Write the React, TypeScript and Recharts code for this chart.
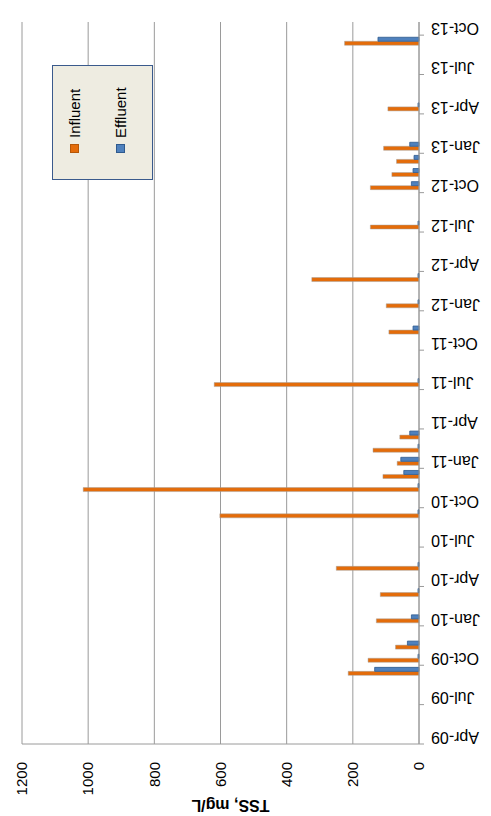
import React from "react";
import { BarChart, Bar, XAxis, YAxis, CartesianGrid, Legend } from "recharts";

// monthly slots of the date axis, Apr-09 .. Oct-13
const months = [
  "Apr-09", "May-09", "Jun-09", "Jul-09", "Aug-09", "Sep-09", "Oct-09", "Nov-09", "Dec-09",
  "Jan-10", "Feb-10", "Mar-10", "Apr-10", "May-10", "Jun-10", "Jul-10", "Aug-10", "Sep-10", "Oct-10", "Nov-10", "Dec-10",
  "Jan-11", "Feb-11", "Mar-11", "Apr-11", "May-11", "Jun-11", "Jul-11", "Aug-11", "Sep-11", "Oct-11", "Nov-11", "Dec-11",
  "Jan-12", "Feb-12", "Mar-12", "Apr-12", "May-12", "Jun-12", "Jul-12", "Aug-12", "Sep-12", "Oct-12", "Nov-12", "Dec-12",
  "Jan-13", "Feb-13", "Mar-13", "Apr-13", "May-13", "Jun-13", "Jul-13", "Aug-13", "Sep-13", "Oct-13",
];

// months with samples
const sampleMonths = [
  "Sep-09", "Oct-09", "Nov-09", "Jan-10", "Mar-10", "May-10", "Sep-10", "Nov-10", "Dec-10", "Jan-11", "Feb-11", "Mar-11",
  "Jul-11", "Nov-11", "Jan-12", "Mar-12", "Jul-12", "Oct-12", "Nov-12", "Dec-12", "Jan-13", "Apr-13", "Sep-13",
];
const influent = [214, 154, 71, 129, 117, 250, 602, 1015, 109, 66, 139, 58, 619, 91, 99, 324, 147, 147, 82, 68, 107, 94, 225];
const effluent = [134, 3, 35, 23, 3, 3, 3, 3, 46, 55, 3, 28, 3, 18, 3, 3, 3, 23, 18, 15, 28, 3, 124];

const yTicks = [0, 200, 400, 600, 800, 1000, 1200];

const data = months.map((m) => {
  const i = sampleMonths.indexOf(m);
  return i < 0 ? { month: m } : { month: m, influent: influent[i], effluent: effluent[i] };
});

const W = 816;
const H = 491;
const LEFT = 72;
const RIGHT = 22;
const BAND = (W - LEFT - RIGHT) / months.length;
const FONT = "'Liberation Sans', Arial, sans-serif";
const GRID = "#9a9a9a";

function MonthTick(props: any) {
  const { x, y, index, payload } = props;
  if (index % 3 !== 0) return <g />;
  return (
    <g transform={`translate(${x},${y})`}>
      <line x1={-BAND / 2} x2={-BAND / 2} y1={0} y2={5} stroke={GRID} />
      <text transform="rotate(-90)" x={-12} y={0} dy="0.35em" textAnchor="end" fontSize={16} fill="#000" fontFamily={FONT}>
        {payload.value}
      </text>
    </g>
  );
}

function AxisTitle(props: any) {
  const vb = props.viewBox || { x: 0, y: 22, height: 397 };
  const cx = vb.x + 10;
  const cy = vb.y + vb.height / 2 + 10;
  return (
    <text x={cx} y={cy} transform={`rotate(-90, ${cx}, ${cy})`} textAnchor="middle" dy="0.35em" fontSize={16} fontWeight="bold" fill="#000" fontFamily={FONT}>
      TSS, mg/L
    </text>
  );
}

function LegendBox() {
  const row = (label: string, fill: string, border: string) => (
    <div style={{ display: "flex", alignItems: "center", height: 20 }}>
      <span style={{ width: 7, height: 7, background: fill, border: `1px solid ${border}`, marginLeft: 26, marginRight: 6 }} />
      <span>{label}</span>
    </div>
  );
  return (
    <div style={{ width: 113, height: 88, background: "#eeece1", border: "1px solid #3a5a8c", fontFamily: FONT, fontSize: 15, color: "#000", paddingTop: 11, boxSizing: "content-box" }}>
      {row("Influent", "#e46c0a", "#b65708")}
      <div style={{ height: 26 }} />
      {row("Effluent", "#4f81bd", "#2f5a8e")}
    </div>
  );
}

export default function App() {
  return (
    <div style={{ position: "absolute", left: 0, top: 0, width: H, height: W, overflow: "hidden", background: "#fff" }}>
      <div style={{ position: "absolute", left: 0, top: 0, width: W, height: H, transformOrigin: "0 0", transform: `translate(0px, ${W}px) rotate(-90deg)` }}>
        <BarChart width={W} height={H} data={data} margin={{ top: 22, right: RIGHT, bottom: 0, left: 0 }} barGap={0} barSize={4}>
          <CartesianGrid vertical={false} stroke={GRID} />
          <XAxis dataKey="month" interval={0} height={72} tickSize={0} tickMargin={0} tickLine={false} axisLine={{ stroke: GRID }} tick={<MonthTick />} />
          <YAxis domain={[0, 1200]} ticks={yTicks} width={LEFT} tickSize={0} tickMargin={18} tickLine={false} axisLine={{ stroke: GRID }}
            tick={{ fontSize: 15, fill: "#000", fontFamily: FONT }} label={<AxisTitle />} />
          <Legend content={<LegendBox />} layout="horizontal" align="center" verticalAlign="middle"
            wrapperStyle={{ left: 636, top: 52, width: 115, height: 90 }} />
          <Bar dataKey="influent" name="Influent" fill="#e46c0a" stroke="#a0a0a0" strokeOpacity={0.6} strokeWidth={0.8} isAnimationActive={false} />
          <Bar dataKey="effluent" name="Effluent" fill="#4f81bd" stroke="#2f5a8e" strokeWidth={0.8} isAnimationActive={false} />
        </BarChart>
      </div>
    </div>
  );
}
